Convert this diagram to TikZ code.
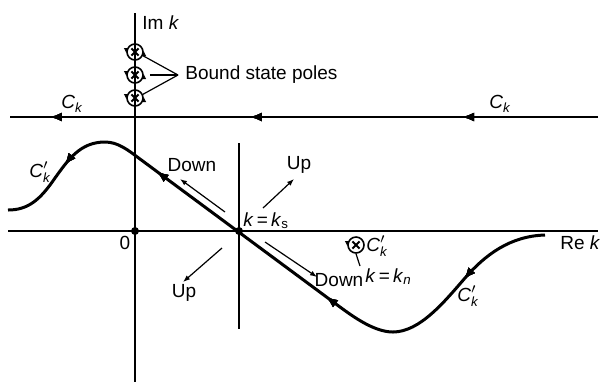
\documentclass[tikz,border=0pt]{standalone}
\usepackage{amsmath}
\usepackage{fontspec}
\setmainfont{Liberation Sans}
\usetikzlibrary{arrows.meta,decorations.markings}

\newcommand{\Ck}{$\textit{C}_{\textit{k}}$}
\newcommand{\Ckp}{$\textit{C}'_{\textit{k}}$}

\tikzset{
  lbl/.style={font=\fontsize{9.5}{11}\selectfont, inner sep=1pt},
  contour/.style={line width=1.5pt},
  arrowat/.style={postaction={decorate},
    decoration={markings, mark=at position #1 with {\arrow{Latex[length=6pt,width=4.5pt]}}}},
  small arrow/.style={line width=0.6pt, -{Latex[length=3.5pt,width=2.6pt]}},
  pole/.style={circle, draw, line width=0.8pt, minimum size=8pt, inner sep=0pt,
    path picture={\draw[line width=1pt]
      ([shift={(-1.8pt,-1.8pt)}]path picture bounding box.center) -- ++(3.6pt,3.6pt)
      ([shift={(-1.8pt,1.8pt)}]path picture bounding box.center) -- ++(3.6pt,-3.6pt);}},
  dot/.style={circle, fill, inner sep=0pt, minimum size=4pt}
}

\begin{document}
\begin{tikzpicture}[x=0.5pt, y=-0.5pt]
    \useasboundingbox (0,0) rectangle (603,382);

    % Draw axes
    \draw[line width=0.8pt] (8,231) -- (598,231);
    \draw[line width=0.7pt] (135,13) -- (135,382);
    \node[lbl, anchor=west] (ImLbl) at (140,23) {Im \textit{k}};
    \node[lbl, anchor=west] (ReLbl) at (558,243) {Re \textit{k}};
    \node[dot] (O) at (135,231) {};
    \node[lbl] (OLbl) at (125,243) {0};

    % Draw contour C_k
    \draw[line width=1pt, arrowat=0.231, arrowat=0.592, arrowat=0.932] (598,117) -- (10,117);
    \node[lbl] (CkL) at (72,104) {\Ck};
    \node[lbl] (CkR) at (500,104) {\Ck};

    % Draw bound state poles
    \node[pole] (B1) at (135,52) {};
    \node[pole] (B2) at (135,75) {};
    \node[pole] (B3) at (135,98) {};
    \coordinate (BSj) at (178,75);
    \node[lbl, anchor=west] (BSLbl) at (183,75) {Bound state poles};
    \draw[line width=0.6pt] (B1.-25) -- (BSj);
    \draw[line width=0.6pt] ([xshift=3pt]B2.east) -- (BSj);
    \draw[line width=0.6pt] (B3.25) -- (BSj);
    \foreach \p in {B1,B2,B3} {
      \draw[-{Latex[length=2.5pt,width=2.5pt]}] ([yshift=1pt]\p.west) -- ([yshift=-0.5pt]\p.west);
      \draw[-{Latex[length=2.5pt,width=2.5pt]}] ([yshift=-1pt]\p.east) -- ([yshift=0.5pt]\p.east);
    }

    % Draw saddle point and steepest descent path C'_k
    \node[dot] (S) at (239,231) {};
    \coordinate (Stop) at (239,143);
    \coordinate (Sbot) at (239,329);
    \draw[line width=0.7pt] (Stop) -- (Sbot);
    \node[lbl, anchor=south west] (KsLbl) at (241,231) {\textit{k}\,=\,\textit{k}$_{\text{s}}$};

    \draw[contour, arrowat=0.145, arrowat=0.40, arrowat=0.72, arrowat=0.885]
      (545,235) .. controls (510,236) and (485,255) .. (465,278)
      .. controls (445,301) and (420,332) .. (393,332)
      .. controls (375,332) and (355,318) .. (340,307)
      -- (140,159)
      .. controls (128,150) and (118,142) .. (105,142)
      .. controls (80,142) and (68,160) .. (55,178)
      .. controls (40,200) and (28,210) .. (8,210);
    \node[lbl] (CkpL) at (40,172) {\Ckp};
    \node[lbl] (CkpR) at (468,296) {\Ckp};

    % Draw up and down directions
    \coordinate (DulA) at (225,212);
    \coordinate (DulB) at (180,179);
    \coordinate (UurA) at (263,208);
    \coordinate (UurB) at (294,179);
    \coordinate (DlrA) at (265,242);
    \coordinate (DlrB) at (317,277);
    \coordinate (UllA) at (222,248);
    \coordinate (UllB) at (183,282);
    \draw[small arrow] (DulA) -- (DulB);
    \draw[small arrow] (UurA) -- (UurB);
    \draw[small arrow] (DlrA) -- (DlrB);
    \draw[small arrow] (UllA) -- (UllB);
    \node[lbl] (DulLbl) at (192,165) {Down};
    \node[lbl] (UurLbl) at (299,165) {Up};
    \node[lbl] (DlrLbl) at (339,280) {Down};
    \node[lbl] (UllLbl) at (184,293) {Up};

    % Draw pole at k = k_n
    \node[pole] (Kn) at (356,245) {};
    \draw[-{Latex[length=2.5pt,width=2.5pt]}] ([yshift=1pt]Kn.west) -- ([yshift=-0.5pt]Kn.west);
    \node[lbl, anchor=west] (CkpN) at (364,246) {\Ckp};
    \coordinate (KnTick) at (360,266);
    \draw[line width=0.6pt] (Kn.south) -- (KnTick);
    \node[lbl, anchor=west] (KnLbl) at (363,277) {\textit{k}\,=\,\textit{k}$_{\textit{n}}$};
\end{tikzpicture}
\end{document}
